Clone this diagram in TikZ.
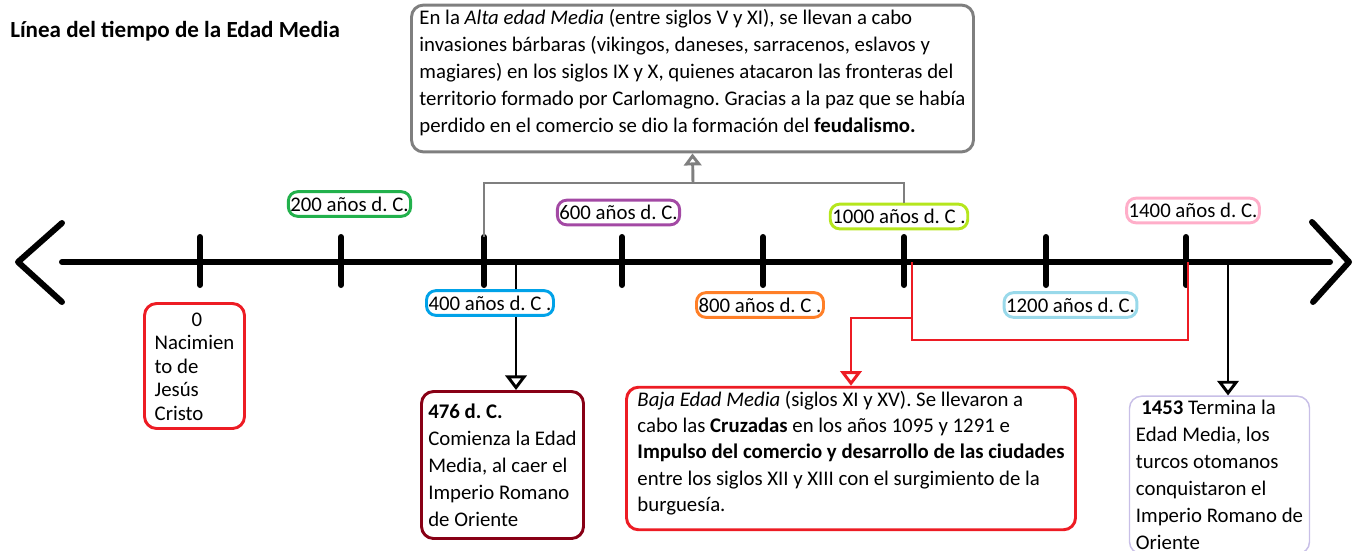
\documentclass[tikz,border=0pt]{standalone}
\usepackage{fontspec}
\setmainfont{Carlito}
\usepackage{tikz}
\usetikzlibrary{arrows.meta,positioning}
\definecolor{pgreen}{RGB}{34,177,76}
\definecolor{pblue}{RGB}{0,162,232}
\definecolor{ppurple}{RGB}{163,73,164}
\definecolor{porange}{RGB}{255,127,39}
\definecolor{plime}{RGB}{181,230,29}
\definecolor{plightblue}{RGB}{153,217,234}
\definecolor{ppink}{RGB}{255,174,201}
\definecolor{pred}{RGB}{237,28,36}
\definecolor{pdarkred}{RGB}{136,0,21}
\definecolor{plavender}{RGB}{200,191,231}
\definecolor{pgray}{RGB}{127,127,127}
\tikzset{
  basebox/.style={rectangle,rounded corners=9pt,line width=2.2pt,align=left,font=\fontsize{15.6}{20.25}\selectfont,inner sep=3pt},
  yearnode/.style={basebox,draw=#1,rounded corners=7pt,inner xsep=1.5pt,inner ysep=0pt,minimum height=18.5pt},
  eventnode/.style={basebox,draw=#1},
  axisline/.style={line width=4.5pt,line cap=round,line join=round},
  tickline/.style={line width=4.5pt,line cap=round},
  blackline/.style={line width=2.2pt,black},
  grayline/.style={line width=2.2pt,pgray},
  redline/.style={line width=2.2pt,pred},
  blackarr/.style={blackline,-{Triangle[open,width=16pt,length=11pt]}},
  grayarr/.style={grayline,-{Triangle[open,width=13pt,length=9pt]}},
  redarr/.style={redline,-{Triangle[open,width=16pt,length=11pt]}}
}

\begin{document}
\frenchspacing
\begin{tikzpicture}[x=0.75pt,y=-0.75pt]
  \useasboundingbox (0,0) rectangle (1357,550);
  \node[font=\fontsize{17.3}{20}\selectfont\bfseries,anchor=west,inner sep=0pt] (title) at (10,31) {Línea del tiempo de la Edad Media};

  % timeline
  \draw[axisline] (62,262) -- (1330,262);
  \draw[axisline] (62,223) -- (18,262) -- (62,302);
  \draw[axisline] (1312,222) -- (1349,262) -- (1313,302);
  \foreach \x/\n in {200/y0,341/y200,484/y400,622/y600,763/y800,904/y1000,1046/y1200,1186/y1400}{
    \coordinate (\n) at (\x,262);
    \draw[tickline] (\x,237) -- (\x,285);
  }

  % year labels
  \node[yearnode=pgreen] (lbl200) at (349.5,204) {200 años d. C.};
  \node[yearnode=pblue] (lbl400) at (490,303) {400 años d. C .};
  \node[yearnode=ppurple] (lbl600) at (618.5,212.5) {600 años d. C.};
  \node[yearnode=porange] (lbl800) at (760,305) {800 años d. C .};
  \node[yearnode=plime] (lbl1000) at (899,216.5) {1000 años d. C .};
  \node[yearnode=plightblue] (lbl1200) at (1070.5,305) {1200 años d. C.};
  \node[yearnode=ppink] (lbl1400) at (1193,210.5) {1400 años d. C.};

  % events
  \node[eventnode=pred,font=\fontsize{15.6}{17.6}\selectfont,minimum width=75pt,minimum height=93.75pt] (box0) at (194.5,366)
    {\phantom{Naci}0\\Nacimien\\to de\\Jesús\\Cristo};
  \node[eventnode=pgray,minimum width=421.5pt,minimum height=108pt] (alta) at (692.5,78.5)
    {En la \textit{Alta edad Media} (entre siglos V y XI), se llevan a cabo\\
     invasiones bárbaras (vikingos, daneses, sarracenos, eslavos y\\
     magiares) en los siglos IX y X, quienes atacaron las fronteras del\\
     territorio formado por Carlomagno. Gracias a la paz que se había\\
     perdido en el comercio se dio la formación del \textbf{feudalismo.}\\[-8.5pt]\mbox{}};
  \node[eventnode=pdarkred,minimum width=121.5pt,minimum height=110.25pt] (box476) at (502.5,465)
    {\textbf{476 d. C.}\\Comienza la Edad\\Media, al caer el\\Imperio Romano\\de Oriente};
  \node[eventnode=pred,font=\fontsize{15.6}{19.7}\selectfont,minimum width=336.75pt,minimum height=105pt] (baja) at (851,458.5)
    {\textit{Baja Edad Media} (siglos XI y XV). Se llevaron a\\
     cabo las \textbf{Cruzadas} en los años 1095 y 1291 e\\
     \textbf{Impulso del comercio y desarrollo de las ciudades}\\
     entre los siglos XII y XIII con el surgimiento de la\\
     burguesía.\\[-9pt]\mbox{}};
  \node[eventnode=plavender,line width=1.1pt,minimum width=135pt,minimum height=116.25pt] (box1453) at (1219.5,475)
    {\hspace*{4pt}\textbf{1453} Termina la\\Edad Media, los\\turcos otomanos\\conquistaron el\\Imperio Romano de\\Oriente};

  % connectors
  \coordinate (altaL) at (484,237);
  \coordinate (altajoin) at (693,183);
  \draw[grayline] (altaL) |- (altajoin) -| (lbl1000.north -| y1000);
  \draw[grayarr] (altajoin) -- (alta.south);

  \coordinate (c476) at (516,262);
  \draw[blackline] (c476) -- (c476 |- lbl400.north);
  \draw[blackarr] (c476 |- lbl400.south) -- (c476 |- box476.north);

  \coordinate (r1000) at (912,262);
  \coordinate (r1400) at (1188,262);
  \coordinate (rA) at (912,340);
  \coordinate (rB) at (1188,340);
  \coordinate (rsplit) at (912,318);
  \draw[redline] (r1000) -- (rA) -- (rB) -- (r1400);
  \draw[redarr] (rsplit) -| (baja.north);

  \coordinate (c1453) at (1228,262);
  \draw[blackarr] (c1453) -- (c1453 |- box1453.north);
\end{tikzpicture}
\end{document}
